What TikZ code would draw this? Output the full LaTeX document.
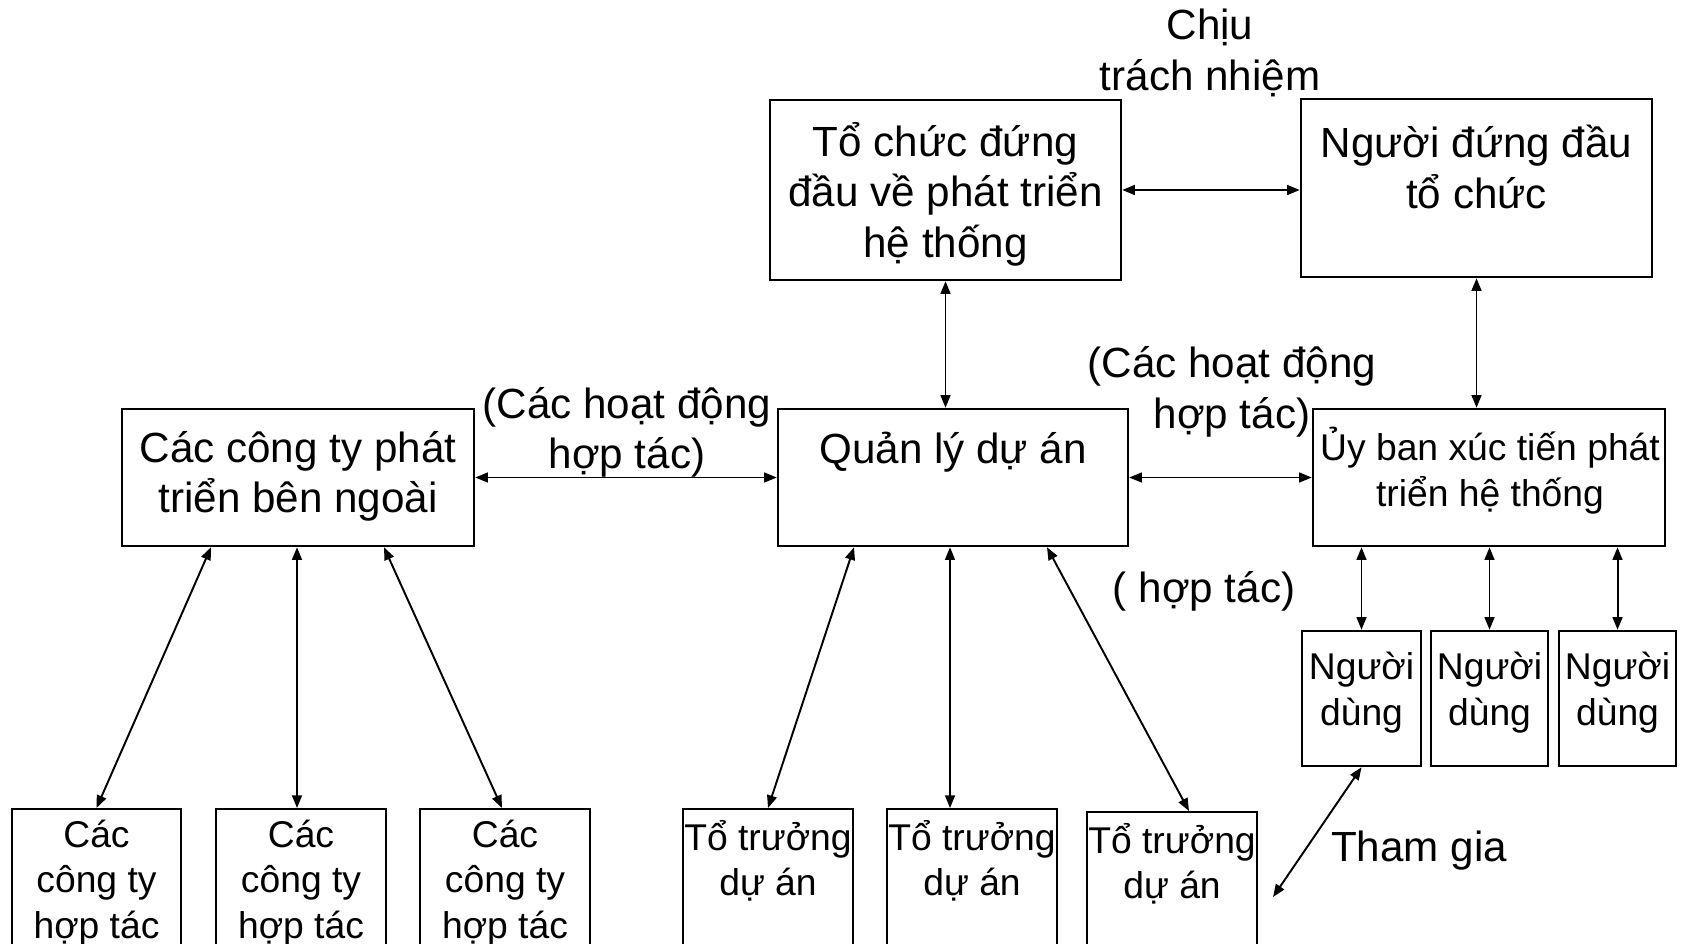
\documentclass[tikz,border=0pt]{standalone}
\usepackage{fontspec}
\setmainfont{Liberation Sans}
\usetikzlibrary{arrows.meta}

\begin{document}
\begin{tikzpicture}[
    box/.style={draw, line width=0.7pt, inner sep=0pt},
    arr/.style={{Triangle[length=3.6pt,width=2.8pt]}-{Triangle[length=3.6pt,width=2.8pt]}, line width=0.55pt},
    big/.style={font=\fontsize{12}{14.4}\selectfont, align=center, inner sep=0pt},
    small/.style={font=\fontsize{10.6}{12.9}\selectfont, align=center, inner sep=0pt}]

    \useasboundingbox (0,0) rectangle (16.84,9.43);
    \clip (0,0) rectangle (16.84,9.43);

    % Top row
    \node[box, minimum width=3.51cm, minimum height=1.80cm] (orgdev) at (9.455,7.53) {};
    \node[big] (orgdevtxt) at (9.455,7.49) {Tổ chức đứng\\đầu về phát triển\\hệ thống};
    \node[box, minimum width=3.51cm, minimum height=1.78cm] (head) at (14.765,7.55) {};
    \node[big] (headtxt) at (14.765,7.76) {Người đứng đầu\\tổ chức};

    % Middle row
    \node[box, minimum width=3.52cm, minimum height=1.37cm] (ext) at (2.98,4.655) {};
    \node[big] (exttxt) at (2.98,4.665) {Các công ty phát\\triển bên ngoài};
    \node[box, minimum width=3.50cm, minimum height=1.37cm] (pm) at (9.53,4.655) {};
    \node[big] (pmtxt) at (9.53,4.91) {Quản lý dự án};
    \node[box, minimum width=3.52cm, minimum height=1.37cm] (comm) at (14.89,4.655) {};
    \node[small] (commtxt) at (14.90,4.725) {Ủy ban xúc tiến phát\\triển hệ thống};

    % Users
    \node[box, minimum width=1.19cm, minimum height=1.35cm] (user1) at (13.615,2.445) {};
    \node[box, minimum width=1.17cm, minimum height=1.35cm] (user2) at (14.895,2.445) {};
    \node[box, minimum width=1.17cm, minimum height=1.35cm] (user3) at (16.175,2.445) {};
    \node[small] (user1txt) at (13.615,2.505) {Người\\dùng};
    \node[small] (user2txt) at (14.895,2.505) {Người\\dùng};
    \node[small] (user3txt) at (16.175,2.505) {Người\\dùng};

    % Bottom row (runs off the page)
    \node[box, anchor=north, minimum width=1.69cm, minimum height=1.8cm] (coop1) at (0.965,1.35) {};
    \node[box, anchor=north, minimum width=1.70cm, minimum height=1.8cm] (coop2) at (3.01,1.35) {};
    \node[box, anchor=north, minimum width=1.70cm, minimum height=1.8cm] (coop3) at (5.05,1.35) {};
    \node[small] (coop1txt) at (0.965,0.60) {Các\\công ty\\hợp tác};
    \node[small] (coop2txt) at (3.01,0.60) {Các\\công ty\\hợp tác};
    \node[small] (coop3txt) at (5.05,0.60) {Các\\công ty\\hợp tác};

    \node[box, anchor=north, minimum width=1.70cm, minimum height=1.8cm] (lead1) at (7.68,1.35) {};
    \node[box, anchor=north, minimum width=1.70cm, minimum height=1.8cm] (lead2) at (9.72,1.35) {};
    \node[box, anchor=north, minimum width=1.70cm, minimum height=1.8cm] (lead3) at (11.72,1.32) {};
    \node[small] (lead1txt) at (7.68,0.825) {Tổ trưởng\\dự án};
    \node[small] (lead2txt) at (9.72,0.825) {Tổ trưởng\\dự án};
    \node[small] (lead3txt) at (11.72,0.795) {Tổ trưởng\\dự án};

    % Labels
    \node[big] (resp) at (12.10,8.90) {Chịu\\trách nhiệm};
    \node[big] (collabL) at (6.27,5.105) {(Các hoạt động\\hợp tác)};
    \node[big] (collabR) at (12.32,5.51) {(Các hoạt động\\hợp tác)};
    \node[big] (collabB) at (12.04,3.52) {( hợp tác)};
    \node[big] (join) at (14.19,0.92) {Tham gia};

    % Connections
    \draw[arr] (orgdev.east) -- (orgdev.east -| head.west);
    \draw[arr] (orgdev.south) -- (orgdev.south |- pm.north);
    \draw[arr] (head.south) -- (head.south |- comm.north);
    \draw[arr] (ext.east) -- (pm.west);
    \draw[arr] (pm.east) -- (comm.west);

    \draw[arr] ([xshift=-0.87cm]ext.south) -- (coop1.north);
    \draw[arr] ([xshift=-0.01cm]ext.south) -- ([xshift=-0.04cm]coop2.north);
    \draw[arr] ([xshift=0.86cm]ext.south) -- ([xshift=-0.03cm]coop3.north);

    \draw[arr] ([xshift=-0.99cm]pm.south) -- (lead1.north);
    \draw[arr] ([xshift=-0.03cm]pm.south) -- ([xshift=-0.22cm]lead2.north);
    \draw[arr] ([xshift=0.94cm]pm.south) -- ([xshift=0.17cm]lead3.north);

    \foreach \u in {user1,user2,user3} {
        \draw[arr] (\u.north |- comm.south) -- (\u.north);
    }

    \coordinate (joinend) at (12.73,0.46);
    \draw[arr] (user1.south) -- (joinend);
\end{tikzpicture}
\end{document}
